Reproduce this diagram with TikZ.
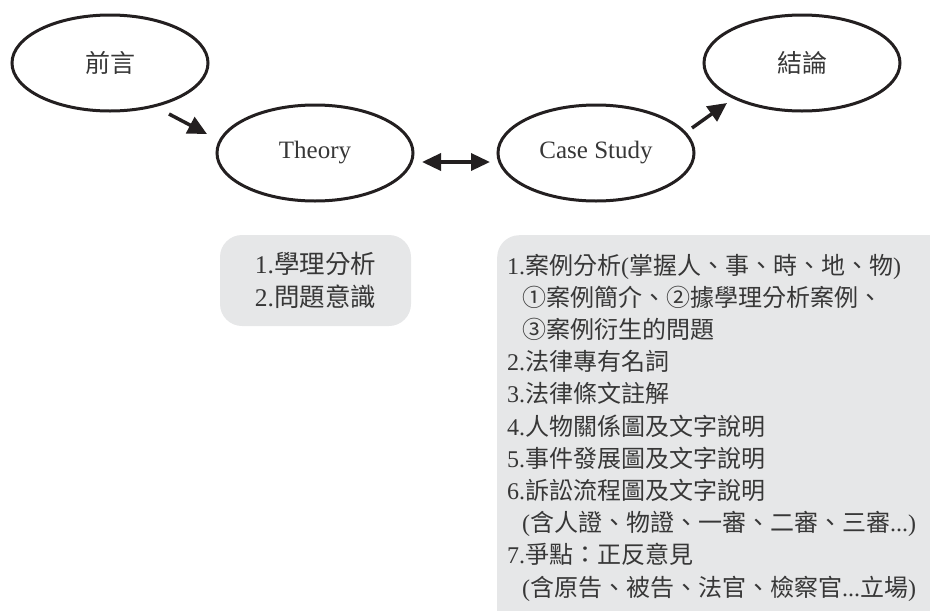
\documentclass[tikz,border=0pt]{standalone}
\usepackage{fontspec}
\setmainfont{Liberation Serif}
\newfontfamily\cjk{Noto Sans CJK TC}
\usetikzlibrary{shapes.geometric,arrows.meta,calc}
\definecolor{ink}{RGB}{35,31,32}
\definecolor{txt}{RGB}{55,55,55}
\definecolor{boxfill}{RGB}{230,231,232}
\newcommand\cj[1]{{\cjk #1}}
\begin{document}
\begin{tikzpicture}[x=1pt,y=-1pt,
  oval/.style={ellipse,draw=ink,line width=3pt,minimum width=196pt,minimum height=96pt,inner sep=0pt,text=txt,font=\fontsize{25}{30}\selectfont},
  arr/.style={draw=ink,line width=3.5pt,-{Triangle[length=19pt,width=18pt]}},
  darr/.style={draw=ink,line width=3.5pt,{Triangle[length=19pt,width=17pt]}-{Triangle[length=19pt,width=17pt]}},
  panel/.style={fill=boxfill,draw=none,rounded corners=22pt,inner sep=0pt},
  ln/.style={anchor=base west,inner sep=0pt,text=txt,font=\fontsize{24}{32}\selectfont},
]
\useasboundingbox (0,0) rectangle (930,611);
\clip (0,0) rectangle (930,611);
% ellipses
\node[oval] (pre) at (110,63) {\cj{前言}};
\node[oval] (theory) at (315,153) {Theory};
\node[oval] (case) at (596,153) {Case Study};
\node[oval] (concl) at (802,63) {\cj{結論}};
% connectors
\coordinate (a1s) at ($(pre.center)+(59,51)$);
\coordinate (a1e) at ($(theory.center)+(-108,-19)$);
\draw[arr] (a1s) -- (a1e);
\coordinate (a2s) at ($(theory.center)+(107,9)$);
\coordinate (a2e) at ($(case.center)+(-106,9)$);
\draw[darr] (a2s) -- (a2e);
\coordinate (a3s) at ($(case.center)+(96,-25)$);
\coordinate (a3e) at ($(concl.center)+(-75,40)$);
\draw[arr] (a3s) -- (a3e);
% theory box
\node[panel,minimum width=191pt,minimum height=91pt,align=center,text=txt,
      font=\fontsize{25.5}{33}\selectfont] (tbox) at (315.5,280.5)
  {1.\cj{學理分析}\\2.\cj{問題意識}};
% case box
\node[panel,minimum width=470pt,minimum height=420pt,anchor=north west] (cbox) at (497,235) {};
\node[ln] (l1) at (507,274) {1.\cj{案例分析}(\cj{掌握人、事、時、地、物})};
\node[ln] (l2) at (522,306.2) {\cj{①案例簡介、②據學理分析案例、}};
\node[ln] (l3) at (522,338.4) {\cj{③案例衍生的問題}};
\node[ln] (l4) at (507,370.6) {2.\cj{法律專有名詞}};
\node[ln] (l5) at (507,402.8) {3.\cj{法律條文註解}};
\node[ln] (l6) at (507,435) {4.\cj{人物關係圖及文字說明}};
\node[ln] (l7) at (507,467.2) {5.\cj{事件發展圖及文字說明}};
\node[ln] (l8) at (507,499.4) {6.\cj{訴訟流程圖及文字說明}};
\node[ln] (l9) at (522,531.6) {(\cj{含人證、物證、一審、二審、三審}...)};
\node[ln] (l10) at (507,563.8) {7.\cj{爭點：正反意見}};
\node[ln] (l11) at (522,596) {(\cj{含原告、被告、法官、檢察官}...\cj{立場})};
\end{tikzpicture}
\end{document}
